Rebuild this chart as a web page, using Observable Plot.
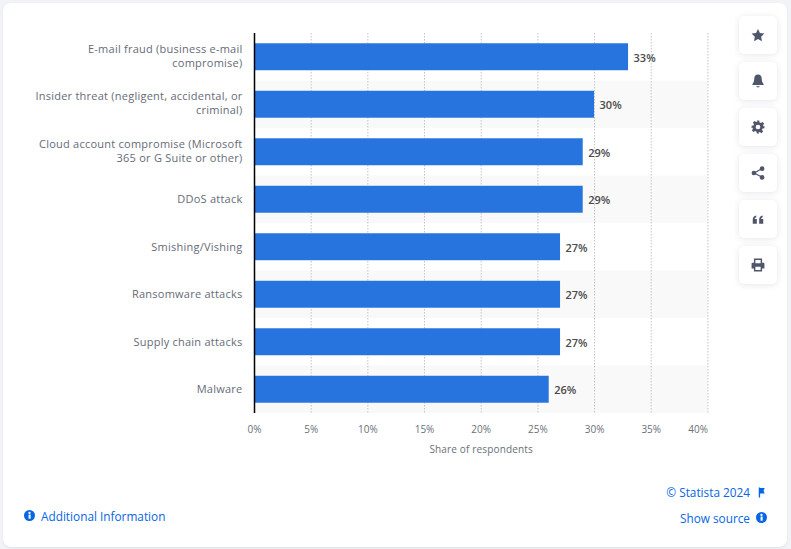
<!DOCTYPE html>
<html>
<head>
<meta charset="utf-8">
<script src="https://cdn.jsdelivr.net/npm/d3@7"></script>
<script src="https://cdn.jsdelivr.net/npm/@observablehq/plot@0.6"></script>
<style>
html,body{margin:0;padding:0;width:791px;height:549px;overflow:hidden;background:#f2f3f6;font-family:"Open Sans",sans-serif}
#card{position:absolute;left:3px;top:3px;width:784px;height:544px;background:#fff;border-radius:8px;box-shadow:0 1px 2px rgba(0,0,0,.08)}
#chart{position:absolute;left:0;top:0}
#chart svg{background:transparent;display:block}
#chart g[aria-label="y-axis tick label"]{letter-spacing:.24px}
#chart g[aria-label="x-axis label"]{letter-spacing:.16px}
.btn{position:absolute;left:739px;width:38px;height:38px;background:#fff;border-radius:5px;box-shadow:0 1px 6px rgba(70,80,110,.14);display:flex;align-items:center;justify-content:center}
.btn svg{width:14px;height:14px;fill:#4f566b}
.link{position:absolute;color:#0666e5;font-size:11.8px;line-height:16px;white-space:nowrap}
.ico{position:absolute;width:11px;height:11px}
</style>
</head>
<body>
<div id="card"></div>
<div id="chart"></div>
<div class="btn" style="top:16px"><svg viewBox="0 0 24 24"><path d="M12 1.5l3.3 7 7.7 1-5.6 5.3 1.4 7.7-6.8-3.7-6.8 3.7 1.4-7.7L1 9.5l7.7-1z"/></svg></div>
<div class="btn" style="top:62px"><svg viewBox="0 0 24 24"><path d="M12 1c4.500 0 6.500 3.500 6.500 8 0 4 1.500 6 3 8v2H2.500v-2c1.500-2 3-4 3-8 0-4.500 2-8 6.500-8zM9 21h6c0 1.200-1.300 2-3 2s-3-.8-3-2z"/></svg></div>
<div class="btn" style="top:108px"><svg viewBox="0 0 24 24"><path fill-rule="evenodd" d="M10 1h4l.7 3.200 2.200.9 2.800-1.800 2.800 2.800-1.800 2.800.9 2.200L23 10v4l-3.200.7-.9 2.200 1.800 2.800-2.800 2.800-2.800-1.800-2.200.9L14 23h-4l-.7-3.200-2.200-.9-2.800 1.800-2.800-2.800 1.800-2.800-.9-2.200L1 14v-4l3.200-.7.900-2.200-1.800-2.800 2.800-2.800 2.800 1.800 2.200-.9zM12 8a4 4 0 100 8 4 4 0 000-8z"/></svg></div>
<div class="btn" style="top:154px"><svg viewBox="0 0 24 24"><circle cx="19" cy="4.500" r="4"/><circle cx="5" cy="12" r="4"/><circle cx="19" cy="19.500" r="4"/><path d="M5 11l13.500-7.500 1 1.800L6 13zM6 11l13.500 7.500-1 1.800L5 13z"/></svg></div>
<div class="btn" style="top:200px"><svg viewBox="0 0 24 24"><path d="M3 20v-7c0-3.500 1.700-6 6-7v3c-1.700.6-2.500 1.500-2.500 3H10v8zM14 20v-7c0-3.500 1.700-6 6-7v3c-1.700.6-2.500 1.500-2.500 3H21v8z"/></svg></div>
<div class="btn" style="top:246px"><svg viewBox="0 0 24 24"><path fill-rule="evenodd" d="M5 1h14v7h2.500c1 0 1.500.7 1.500 1.500V18h-4v5H5v-5H1V9.500C1 8.700 1.500 8 2.500 8H5zm2.500 2.500V9h9V3.500zM7.500 15v5.500h9V15z"/></svg></div>
<div class="link" style="left:41px;top:508px">Additional Information</div>
<svg class="ico" style="left:24px;top:510px" viewBox="0 0 24 24"><circle cx="12" cy="12" r="12" fill="#0666e5"/><rect x="10" y="10" width="4.500" height="9" fill="#fff"/><circle cx="12" cy="6.500" r="2.500" fill="#fff"/></svg>
<div class="link" style="right:41px;top:484px">© Statista 2024</div>
<svg class="ico" style="left:756px;top:487px" viewBox="0 0 24 24"><path d="M6 1h3v22H6zM9 2h10l-2.500 6 2.500 6H9z" fill="#0666e5"/></svg>
<div class="link" style="right:41px;top:510px">Show source</div>
<svg class="ico" style="left:756px;top:512px" viewBox="0 0 24 24"><circle cx="12" cy="12" r="12" fill="#0666e5"/><rect x="10" y="10" width="4.500" height="9" fill="#fff"/><circle cx="12" cy="6.500" r="2.500" fill="#fff"/></svg>
<script>
const categories = [
  "E-mail fraud (business e-mail\ncompromise)",
  "Insider threat (negligent, accidental, or\ncriminal)",
  "Cloud account compromise (Microsoft\n365 or G Suite or other)",
  "DDoS attack",
  "Smishing/Vishing",
  "Ransomware attacks",
  "Supply chain attacks",
  "Malware"
];
const shares = [33, 30, 29, 29, 27, 27, 27, 26];
const xTicks = [0, 5, 10, 15, 20, 25, 30, 35];
const lastTick = [40];
const gridTicks = [5, 10, 15, 20, 25, 30, 35, 40];
const rows = categories.map((category, i) => ({category, share: shares[i]}));
const shaded = categories.filter((_, i) => i % 2 === 1);
const wrapped = categories.filter(c => c.includes("\n"));
const single = categories.filter(c => !c.includes("\n"));
const font = '"Open Sans", sans-serif';

const plot = Plot.plot({
  width: 791,
  height: 549,
  marginTop: 33,
  marginBottom: 136,
  marginLeft: 254,
  marginRight: 83.6,
  style: {background: "transparent", fontFamily: font},
  x: {domain: [0, 40], label: null},
  y: {domain: categories, paddingInner: 0.432, paddingOuter: 0.216, round: false, label: null},
  marks: [
    Plot.barX(shaded, {x1: () => 0, x2: () => 40, y: d => d, fill: "#f9f9f9", insetTop: -10.25, insetBottom: -10.25}),
    Plot.ruleX(gridTicks, {stroke: "#c4c4c4", strokeWidth: 1, strokeDasharray: "1.500,1.500"}),
    Plot.barX(rows, {x: "share", y: "category", fill: "#2874de"}),
    Plot.ruleX([0], {stroke: "#000", strokeWidth: 1.5}),
    Plot.text(rows, {x: "share", y: "category", text: d => d.share + "%", textAnchor: "start", dx: 5, dy: 1, fontWeight: 600, fontSize: 11, fill: "#4a4a4a"}),
    Plot.axisY({ticks: wrapped, tickSize: 0, tickPadding: 12, dy: -2, fontSize: 11, color: "#666b78", label: null, lineHeight: 1.3, lineWidth: 100}),
    Plot.axisY({ticks: single, tickSize: 0, tickPadding: 12, dy: 0, fontSize: 11, color: "#666b78", label: null}),
    Plot.axisX({ticks: xTicks, tickSize: 0, tickPadding: 12, tickFormat: d => d + "%", fontSize: 10, color: "#6b6f78", label: "Share of respondents", labelAnchor: "center", labelArrow: "none", labelOffset: 39}),
    Plot.axisX({ticks: lastTick, tickSize: 0, tickPadding: 12, tickFormat: d => d + "%", fontSize: 10, color: "#6b6f78", textAnchor: "end", label: null})
  ]
});
document.getElementById("chart").appendChild(plot);
</script>
</body>
</html>
